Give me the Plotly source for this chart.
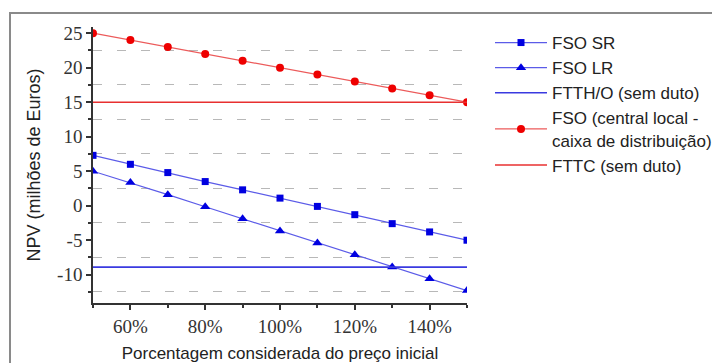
import plotly.graph_objects as go

pct = [50, 60, 70, 80, 90, 100, 110, 120, 130, 140, 150]
fso_sr = [7.3, 6.0, 4.8, 3.5, 2.3, 1.1, -0.1, -1.3, -2.6, -3.8, -5.0]
fso_lr = [5.0, 3.35, 1.6, -0.15, -1.9, -3.65, -5.4, -7.1, -8.9, -10.6, -12.3]
ftth_x = [50, 150]
ftth_o = [-8.9, -8.9]
fso_cl = [25, 24, 23, 22, 21, 20, 19, 18, 17, 16, 15]
fttc_x = [50, 150]
fttc = [15, 15]

x_ticks = [60, 80, 100, 120, 140]
x_labels = ["60%", "80%", "100%", "120%", "140%"]
y_ticks = [25, 20, 15, 10, 5, 0, -5, -10]
y_labels = ["25", "20", "15", "10", "5", "0", "-5", "-10"]

BLUE_M = "#0000e0"
BLUE_L = "#5b5be8"
RED_M = "#ee0000"
RED_L = "#ec5a5a"
SERIF = "Times New Roman, Liberation Serif, serif"
SANS = "Arial, Liberation Sans, sans-serif"

fig = go.Figure()
fig.add_trace(go.Scatter(x=pct, y=fso_sr, name="FSO SR", mode="lines+markers",
                         line=dict(color=BLUE_L, width=1.2),
                         marker=dict(symbol="square", size=7, color=BLUE_M)))
fig.add_trace(go.Scatter(x=pct, y=fso_lr, name="FSO LR", mode="lines+markers",
                         line=dict(color=BLUE_L, width=1.2),
                         marker=dict(symbol="triangle-up", size=9, color=BLUE_M)))
fig.add_trace(go.Scatter(x=ftth_x, y=ftth_o, name="FTTH/O (sem duto)", mode="lines",
                         line=dict(color="#3a3ae0", width=1.6)))
fig.add_trace(go.Scatter(x=pct, y=fso_cl, name="FSO (central local -<br>caixa de distribuição)",
                         mode="lines+markers",
                         line=dict(color=RED_L, width=1.2),
                         marker=dict(symbol="circle", size=8, color=RED_M)))
fig.add_trace(go.Scatter(x=fttc_x, y=fttc, name="FTTC (sem duto)", mode="lines",
                         line=dict(color="#e83030", width=1.6)))

# page is offset by the 8px default body margin
OFF = 8
W, H = 720 - OFF, 363 - OFF
px_left, px_right, px_top, px_bot = 93 - OFF, 467 - OFF, 27 - OFF, 303 - OFF
L, R, T, B = px_left, W - px_right, px_top, H - px_bot
pw = px_right - px_left
ph = px_bot - px_top

fig.update_layout(
    width=W, height=H,
    margin=dict(l=L, r=R, t=T, b=B, autoexpand=False),
    paper_bgcolor="white", plot_bgcolor="white",
    font=dict(family=SANS, color="#222"),
    showlegend=True,
    legend=dict(x=(490 - OFF - px_left) / pw, y=(px_bot - (25 - OFF)) / ph,
                xanchor="left", yanchor="top",
                font=dict(family=SANS, size=17, color="#222"),
                bgcolor="rgba(0,0,0,0)", itemwidth=52, tracegroupgap=0),
    shapes=[dict(type="rect", xref="paper", yref="paper",
                 x0=(10 - OFF - px_left) / pw, x1=(W + 20 - px_left) / pw,
                 y0=(px_bot - (H + 20)) / ph, y1=(px_bot - (13 - OFF)) / ph,
                 line=dict(color="#8a8a8a", width=2), fillcolor="rgba(0,0,0,0)",
                 layer="below")],
)

fig.update_xaxes(range=[50, 150], tickvals=x_ticks, ticktext=x_labels,
                 automargin=False,
                 showgrid=False, zeroline=False,
                 showline=True, linecolor="#333", linewidth=1.5,
                 ticks="outside", ticklen=5, tickcolor="#333", tickwidth=1.5,
                 tickfont=dict(family=SERIF, size=19, color="#333"),
                 minor=dict(tickvals=[50, 70, 90, 110, 130, 150], ticks="outside", ticklen=3,
                            tickcolor="#333", tickwidth=1.5, showgrid=False),
                 title=dict(text="Porcentagem considerada do preço inicial",
                            font=dict(family=SANS, size=17, color="#222"),
                            standoff=14))
fig.update_yaxes(range=[-14.1, 25.9], tickvals=y_ticks, ticktext=y_labels,
                 automargin=False,
                 showgrid=False, zeroline=False,
                 showline=True, linecolor="#333", linewidth=1.5,
                 ticks="outside", ticklen=5, tickcolor="#333", tickwidth=1.5,
                 tickfont=dict(family=SERIF, size=19, color="#333"),
                 minor=dict(tickvals=[22.5, 17.5, 12.5, 7.5, 2.5, -2.5, -7.5, -12.5],
                            ticks="outside", ticklen=3, tickcolor="#333", tickwidth=1.5,
                            showgrid=True, gridcolor="#b8b8b8", gridwidth=1, griddash="9px,15px"),
                 title=dict(text="NPV (milhões de Euros)",
                            font=dict(family=SANS, size=18, color="#222"),
                            standoff=12))

fig.write_html("out.html")
